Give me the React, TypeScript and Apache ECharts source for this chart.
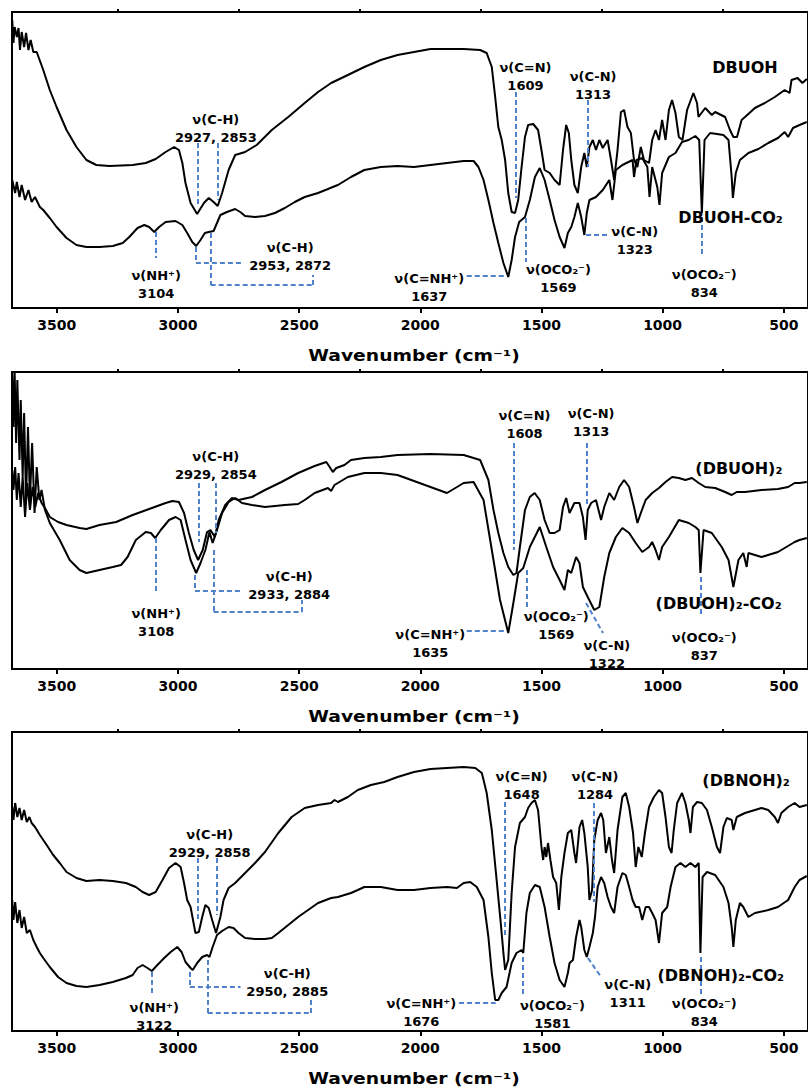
import React, { useEffect, useRef } from "react";
import * as echarts from "echarts";

// ---------- axes ----------
const WN_MIN = 400;
const WN_MAX = 3685;
const majorTicks = [500, 1000, 1500, 2000, 2500, 3000, 3500];
const minorTicks = [750, 1250, 1750, 2250, 2750, 3250];
// transmittance range (arbitrary units) of each panel
const tMax = [296, 297, 299];

// ---------- panel 1 : DBUOH / DBUOH-CO2 ----------
const p1DBUOH = [
  [3684,288],[3679,265],[3674,281],[3665,271],[3658,280],[3652,258],[3645,276],[3635,261],[3627,275],[3617,258],[3608,268],[3597,256],[3583,256],[3556,238],[3529,218],[3501,201],[3460,178],[3419,161],[3378,148],[3337,143],[3283,142],[3187,143],[3133,145],[3092,149],[3051,156],[3016,161],[2996,158],[2982,145],[2969,125],[2948,105],[2921,94],[2893,105],[2873,110],[2853,106],[2836,102],[2818,115],[2791,138],[2764,153],[2723,156],[2675,163],[2613,178],[2545,191],[2477,205],[2422,216],[2368,225],[2299,233],[2231,241],[2163,248],[2094,253],[2026,256],[1958,259],[1890,259],[1821,259],[1753,258],[1726,255],[1705,241],[1691,211],[1678,181],[1664,168],[1650,148],[1637,115],[1623,96],[1609,95],[1596,108],[1582,141],[1568,171],[1555,183],[1534,184],[1514,178],[1500,158],[1487,138],[1466,135],[1446,128],[1425,123],[1411,158],[1398,183],[1387,175],[1377,148],[1364,123],[1350,115],[1336,141],[1323,155],[1313,141],[1302,161],[1288,168],[1275,158],[1261,168],[1247,160],[1227,168],[1213,148],[1200,128],[1186,158],[1172,196],[1159,198],[1145,181],[1131,175],[1118,148],[1104,141],[1090,161],[1077,148],[1056,145],[1043,168],[1029,178],[1015,168],[1002,188],[988,168],[974,198],[961,208],[947,195],[933,171],[918,168],[899,198],[873,215],[858,205],[852,191],[824,200],[797,193],[783,196],[742,191],[722,178],[708,171],[693,171],[674,188],[660,191],[619,200],[578,205],[537,211],[496,218],[476,215],[468,228],[443,230],[423,225],[405,229]
];
const p1DBUOHCO2 = [
  [3684,128],[3672,115],[3665,126],[3654,111],[3645,123],[3631,108],[3617,118],[3604,106],[3590,111],[3570,101],[3556,98],[3529,90],[3501,81],[3460,70],[3419,63],[3378,61],[3324,61],[3269,62],[3228,65],[3201,71],[3167,80],[3139,83],[3119,81],[3098,76],[3078,81],[3051,86],[3010,87],[2982,83],[2962,75],[2941,66],[2925,62],[2907,68],[2889,75],[2873,76],[2853,77],[2839,85],[2825,93],[2798,96],[2764,99],[2743,96],[2723,92],[2682,91],[2641,92],[2600,95],[2559,100],[2518,106],[2477,111],[2422,115],[2381,119],[2361,121],[2340,123],[2286,131],[2231,138],[2163,141],[2094,142],[2026,141],[1958,143],[1890,145],[1821,147],[1780,147],[1760,141],[1739,128],[1719,108],[1698,85],[1678,65],[1657,45],[1637,31],[1623,48],[1609,71],[1592,86],[1568,91],[1548,108],[1527,131],[1507,140],[1487,128],[1466,108],[1446,88],[1425,71],[1405,60],[1391,75],[1377,81],[1364,91],[1350,105],[1336,91],[1323,73],[1313,95],[1302,108],[1275,111],[1247,118],[1220,128],[1207,108],[1193,138],[1166,143],[1124,148],[1118,131],[1108,148],[1084,150],[1063,141],[1054,111],[1043,141],[1022,121],[1013,103],[1002,135],[974,151],[947,155],[920,166],[893,168],[865,172],[849,168],[838,95],[827,168],[804,175],[776,174],[749,173],[728,168],[715,131],[710,110],[698,135],[681,148],[646,155],[605,159],[564,165],[524,170],[496,176],[482,171],[462,180],[435,183],[405,186]
];

// ---------- panel 2 : (DBUOH)2 / (DBUOH)2-CO2 ----------
const p2DBUOH2 = [
  [3684,199],[3679,179],[3672,202],[3665,169],[3658,196],[3649,162],[3641,192],[3631,152],[3622,186],[3611,159],[3600,182],[3589,162],[3577,176],[3563,166],[3549,161],[3529,152],[3495,147],[3460,144],[3406,141],[3378,140],[3324,144],[3255,147],[3187,154],[3119,160],[3051,166],[3023,168],[2996,167],[2975,156],[2955,136],[2935,119],[2917,109],[2898,119],[2880,137],[2866,139],[2848,132],[2832,149],[2805,164],[2777,171],[2750,169],[2695,172],[2641,179],[2573,187],[2504,196],[2436,203],[2388,207],[2374,202],[2361,197],[2347,201],[2313,204],[2286,209],[2231,211],[2163,212],[2094,214],[1958,215],[1821,214],[1753,209],[1719,189],[1698,159],[1678,136],[1657,116],[1637,102],[1616,94],[1603,96],[1589,122],[1568,159],[1548,172],[1528,176],[1507,169],[1487,149],[1466,136],[1446,136],[1425,139],[1411,162],[1398,171],[1384,156],[1364,166],[1343,166],[1329,152],[1318,129],[1309,159],[1295,166],[1275,169],[1254,149],[1241,162],[1220,176],[1200,169],[1179,182],[1159,189],[1138,182],[1118,162],[1104,146],[1090,156],[1070,169],[1043,176],[1015,181],[988,187],[961,192],[933,191],[906,189],[879,191],[851,186],[824,182],[783,181],[742,177],[715,174],[694,177],[660,177],[592,179],[524,180],[482,182],[455,186],[435,186],[405,187]
];
const p2DBUOH2CO2 = [
  [3684,296],[3679,242],[3674,296],[3668,226],[3663,289],[3654,209],[3649,269],[3641,192],[3635,256],[3627,169],[3619,242],[3611,169],[3602,226],[3592,156],[3583,202],[3572,169],[3563,179],[3549,159],[3529,146],[3488,129],[3447,109],[3406,99],[3378,96],[3324,99],[3269,102],[3235,104],[3208,112],[3174,129],[3133,137],[3112,136],[3094,131],[3071,139],[3037,149],[3010,152],[2989,149],[2969,129],[2948,109],[2925,96],[2907,106],[2887,119],[2870,137],[2857,126],[2839,139],[2818,156],[2791,167],[2764,171],[2736,166],[2695,164],[2641,162],[2559,164],[2504,165],[2477,169],[2436,176],[2381,181],[2368,178],[2354,184],[2299,192],[2231,196],[2163,196],[2094,194],[1958,182],[1890,176],[1821,186],[1780,187],[1739,169],[1698,109],[1671,69],[1637,36],[1616,66],[1596,96],[1575,101],[1548,122],[1507,142],[1480,122],[1452,102],[1425,89],[1405,79],[1391,99],[1377,96],[1357,112],[1343,106],[1329,82],[1309,72],[1282,59],[1261,62],[1241,92],[1220,116],[1193,132],[1166,141],[1138,136],[1111,126],[1084,117],[1056,122],[1043,127],[1029,119],[1015,109],[1002,122],[974,132],[933,149],[892,146],[865,142],[851,139],[844,96],[831,139],[797,136],[756,122],[728,109],[708,82],[687,109],[667,116],[653,102],[646,116],[592,112],[524,117],[455,127],[435,129],[405,131]
];

// ---------- panel 3 : (DBNOH)2 / (DBNOH)2-CO2 ----------
const p3DBNOH2 = [
  [3684,224],[3679,211],[3672,228],[3663,214],[3654,223],[3645,211],[3635,221],[3624,209],[3613,214],[3604,208],[3590,204],[3570,196],[3542,186],[3515,176],[3488,168],[3460,159],[3419,153],[3378,150],[3324,151],[3269,150],[3215,148],[3174,144],[3146,139],[3119,136],[3092,139],[3064,151],[3037,163],[3010,168],[2989,164],[2975,148],[2962,131],[2948,124],[2928,98],[2914,99],[2900,114],[2887,126],[2873,123],[2859,111],[2843,98],[2825,114],[2812,131],[2791,143],[2764,148],[2723,158],[2682,168],[2641,179],[2586,198],[2531,214],[2477,223],[2422,226],[2368,228],[2354,231],[2340,229],[2299,234],[2258,241],[2204,246],[2149,249],[2094,254],[2026,259],[1958,262],[1890,263],[1821,264],[1773,263],[1746,258],[1726,238],[1705,201],[1685,151],[1668,108],[1657,78],[1650,61],[1637,71],[1623,138],[1609,184],[1589,208],[1568,214],[1555,223],[1541,228],[1527,231],[1514,221],[1500,184],[1493,171],[1487,184],[1480,174],[1473,188],[1463,171],[1452,154],[1439,148],[1428,121],[1418,154],[1405,178],[1391,198],[1377,201],[1364,178],[1357,168],[1343,204],[1332,211],[1323,198],[1309,164],[1302,131],[1291,141],[1282,191],[1268,211],[1254,218],[1245,211],[1234,178],[1220,194],[1209,171],[1200,158],[1186,201],[1166,234],[1152,238],[1138,224],[1122,198],[1111,164],[1100,184],[1086,174],[1073,198],[1056,224],[1036,234],[1015,241],[1002,238],[988,214],[974,184],[963,178],[954,201],[940,228],[920,238],[906,228],[892,211],[885,198],[875,224],[858,229],[838,228],[817,221],[797,204],[776,184],[763,178],[749,204],[735,213],[715,211],[708,201],[694,214],[660,218],[619,221],[592,223],[564,221],[537,214],[524,208],[510,218],[482,224],[455,228],[435,224],[405,226]
];
const p3DBNOH2CO2 = [
  [3684,131],[3679,111],[3672,129],[3663,108],[3654,121],[3645,103],[3635,114],[3624,98],[3611,101],[3597,91],[3583,84],[3570,78],[3556,73],[3529,64],[3495,54],[3460,48],[3419,45],[3378,44],[3324,46],[3269,49],[3215,53],[3187,56],[3167,63],[3146,66],[3126,63],[3108,60],[3085,66],[3057,73],[3030,79],[3003,84],[2985,79],[2969,69],[2948,63],[2939,61],[2921,68],[2900,74],[2880,76],[2870,74],[2857,84],[2839,96],[2818,100],[2791,104],[2771,103],[2750,98],[2723,93],[2682,92],[2641,92],[2613,93],[2586,98],[2545,106],[2504,114],[2463,121],[2422,128],[2368,133],[2340,134],[2313,136],[2286,138],[2258,141],[2231,144],[2163,144],[2094,141],[2026,141],[1958,143],[1890,144],[1849,143],[1821,148],[1794,149],[1767,144],[1739,131],[1719,94],[1705,58],[1691,31],[1678,31],[1664,38],[1644,44],[1623,68],[1603,78],[1582,81],[1575,78],[1562,118],[1548,138],[1527,146],[1507,144],[1487,124],[1466,94],[1446,68],[1425,51],[1405,44],[1391,58],[1384,68],[1370,71],[1357,94],[1343,111],[1336,104],[1323,81],[1313,74],[1302,84],[1288,98],[1279,114],[1268,144],[1254,154],[1241,148],[1227,134],[1213,124],[1200,118],[1186,144],[1166,158],[1152,156],[1138,144],[1124,131],[1111,124],[1097,124],[1084,111],[1070,124],[1056,124],[1043,118],[1029,111],[1015,88],[1002,118],[981,124],[967,144],[947,164],[926,168],[906,164],[885,168],[865,164],[851,168],[844,78],[835,154],[817,159],[783,156],[749,144],[728,128],[715,104],[708,84],[698,111],[681,128],[667,124],[646,114],[619,118],[564,121],[524,124],[482,131],[455,144],[435,151],[405,155]
];

// ---------- annotation guide lines (wavenumber, transmittance) ----------
const p1Guides = [
  [[2918,165],[2918,103]],
  [[2836,165],[2836,108]],
  [[1607,216],[1607,110]],
  [[1308,208],[1308,141]],
  [[3090,76],[3090,50]],
  [[2926,61],[2926,45],[2730,45]],
  [[2865,75],[2865,23],[2443,23],[2443,33]],
  [[1808,32],[1644,32]],
  [[1566,90],[1566,46]],
  [[1316,73],[1221,73]],
  [[837,91],[837,51]]
];
const p2Guides = [
  [[2914,186],[2914,127]],
  [[2844,186],[2844,136]],
  [[3090,131],[3090,76]],
  [[2930,94],[2930,78],[2738,78]],
  [[2853,119],[2853,57],[2488,57],[2488,69]],
  [[1615,226],[1615,119]],
  [[1312,226],[1312,162]],
  [[1808,38],[1644,38]],
  [[1562,99],[1562,59]],
  [[1316,66],[1246,36]],
  [[844,92],[844,52]]
];
const p3Guides = [
  [[2918,173],[2918,111]],
  [[2840,173],[2840,116]],
  [[3107,59],[3107,38]],
  [[2951,59],[2951,44],[2742,44]],
  [[2877,71],[2877,18],[2451,18],[2451,32]],
  [[1652,229],[1652,94]],
  [[1283,228],[1283,129]],
  [[1840,28],[1689,28]],
  [[1578,74],[1578,34]],
  [[1308,73],[1254,54]],
  [[844,74],[844,34]]
];

// ---------- annotation texts [wavenumber, transmittance, text] ----------
const p1Notes = [
  [2844,180,"ν(C-H)\n2927, 2853"],
  [1566,232,"ν(C=N)\n1609"],
  [1287,223,"ν(C-N)\n1313"],
  [3090,24,"ν(NH⁺)\n3104"],
  [2537,52,"ν(C-H)\n2953, 2872"],
  [1963,21,"ν(C=NH⁺)\n1637"],
  [1430,30,"ν(OCO₂⁻)\n1569"],
  [1115,68,"ν(C-N)\n1323"],
  [828,25,"ν(OCO₂⁻)\n834"]
];
const p2Notes = [
  [2844,204,"ν(C-H)\n2929, 2854"],
  [3090,47,"ν(NH⁺)\n3108"],
  [2541,84,"ν(C-H)\n2933, 2884"],
  [1570,245,"ν(C=N)\n1608"],
  [1295,247,"ν(C-N)\n1313"],
  [1959,26,"ν(C=NH⁺)\n1635"],
  [1439,44,"ν(OCO₂⁻)\n1569"],
  [1230,15,"ν(C-N)\n1322"],
  [828,23,"ν(OCO₂⁻)\n837"]
];
const p3Notes = [
  [2869,188,"ν(C-H)\n2929, 2858"],
  [3098,15,"ν(NH⁺)\n3122"],
  [2549,49,"ν(C-H)\n2950, 2885"],
  [1582,246,"ν(C=N)\n1648"],
  [1279,246,"ν(C-N)\n1284"],
  [1996,19,"ν(C=NH⁺)\n1676"],
  [1455,17,"ν(OCO₂⁻)\n1581"],
  [1144,38,"ν(C-N)\n1311"],
  [828,19,"ν(OCO₂⁻)\n834"]
];

// ---------- sample names [wavenumber (left edge), transmittance, name] ----------
const p1Names = [[795,241,"DBUOH"],[935,91,"DBUOH-CO₂"]];
const p2Names = [[865,201,"(DBUOH)₂"],[1029,66,"(DBUOH)₂-CO₂"]];
const p3Names = [[836,251,"(DBNOH)₂"],[1021,56,"(DBNOH)₂-CO₂"]];

const panels = [
  { upper: p1DBUOH, lower: p1DBUOHCO2, guides: p1Guides, notes: p1Notes, names: p1Names, upperName: "DBUOH", lowerName: "DBUOH-CO₂" },
  { upper: p2DBUOH2, lower: p2DBUOH2CO2, guides: p2Guides, notes: p2Notes, names: p2Names, upperName: "(DBUOH)₂", lowerName: "(DBUOH)₂-CO₂" },
  { upper: p3DBNOH2, lower: p3DBNOH2CO2, guides: p3Guides, notes: p3Notes, names: p3Names, upperName: "(DBNOH)₂", lowerName: "(DBNOH)₂-CO₂" }
];

// ---------- layout / style ----------
const FONT = "DejaVu Sans";
const BLUE = "#4F82C9";
const gridTops = [12, 372, 732];

export default function App() {
  const ref = useRef<HTMLDivElement>(null);
  useEffect(() => {
    if (!ref.current) return;
    const chart = echarts.init(ref.current, undefined, { renderer: "svg" });

    const grid: any[] = [];
    const xAxis: any[] = [];
    const yAxis: any[] = [];
    const series: any[] = [];
    const graphic: any[] = [];

    panels.forEach((p, i) => {
      grid.push({
        left: 12, right: -5, top: gridTops[i], height: tMax[i],
        show: true, borderColor: "#000", borderWidth: 2, backgroundColor: "transparent"
      });
      xAxis.push({
        gridIndex: i, type: "value", min: WN_MIN, max: WN_MAX, inverse: true,
        axisLine: { show: false }, splitLine: { show: false },
        axisTick: { show: true, customValues: majorTicks, length: 5, lineStyle: { color: "#000", width: 2 } },
        axisLabel: {
          show: true, customValues: majorTicks, margin: 10, color: "#000",
          fontFamily: FONT, fontWeight: "bold", fontSize: 14,
          formatter: (v: number) => String(v)
        }
      });
      xAxis.push({
        gridIndex: i, type: "value", min: WN_MIN, max: WN_MAX, inverse: true,
        axisLine: { show: false }, splitLine: { show: false },
        axisTick: { show: true, customValues: minorTicks, length: 3, lineStyle: { color: "#000", width: 2 } },
        axisLabel: { show: false }
      });
      yAxis.push({ gridIndex: i, type: "value", min: 0, max: tMax[i], show: false, splitLine: { show: false } });

      const segs: any[] = [];
      p.guides.forEach((g: any) => {
        for (let k = 0; k < g.length - 1; k++) {
          segs.push([{ coord: g[k] }, { coord: g[k + 1] }]);
        }
      });

      const mp: any[] = [];
      p.notes.forEach((n: any) => {
        mp.push({ coord: [n[0], n[1]], label: { formatter: n[2] } });
      });
      p.names.forEach((n: any) => {
        mp.push({ coord: [n[0], n[1]], label: { formatter: n[2], align: "left", fontSize: 16 } });
      });

      series.push({
        type: "line", name: p.upperName, xAxisIndex: 2 * i, yAxisIndex: i,
        data: p.upper, showSymbol: false, symbol: "none", silent: true,
        lineStyle: { color: "#000", width: 2 }, z: 3,
        markLine: {
          silent: true, symbol: ["none", "none"], label: { show: false },
          lineStyle: { color: BLUE, type: [5, 3], width: 2 },
          data: segs
        },
        markPoint: {
          silent: true, symbol: "circle", symbolSize: 0,
          itemStyle: { color: "transparent" },
          label: {
            show: true, position: "inside", color: "#000", fontFamily: FONT,
            fontWeight: "bold", fontSize: 13, lineHeight: 18
          },
          data: mp
        }
      });
      series.push({
        type: "line", name: p.lowerName, xAxisIndex: 2 * i, yAxisIndex: i,
        data: p.lower, showSymbol: false, symbol: "none", silent: true,
        lineStyle: { color: "#000", width: 2 }, z: 3
      });

      graphic.push({
        type: "text", x: 414, y: gridTops[i] + tMax[i] + 48, scaleX: 1.25, silent: true,
        style: {
          text: "Wavenumber (cm⁻¹)", fill: "#000", fontFamily: FONT, fontWeight: "bold",
          fontSize: 15, align: "center", verticalAlign: "middle"
        }
      });
    });

    chart.setOption({
      animation: false,
      backgroundColor: "#fff",
      grid, xAxis, yAxis, series, graphic
    });
    return () => chart.dispose();
  }, []);

  return <div ref={ref} style={{ position: "absolute", left: 0, top: 0, width: 808, height: 1088 }} />;
}
